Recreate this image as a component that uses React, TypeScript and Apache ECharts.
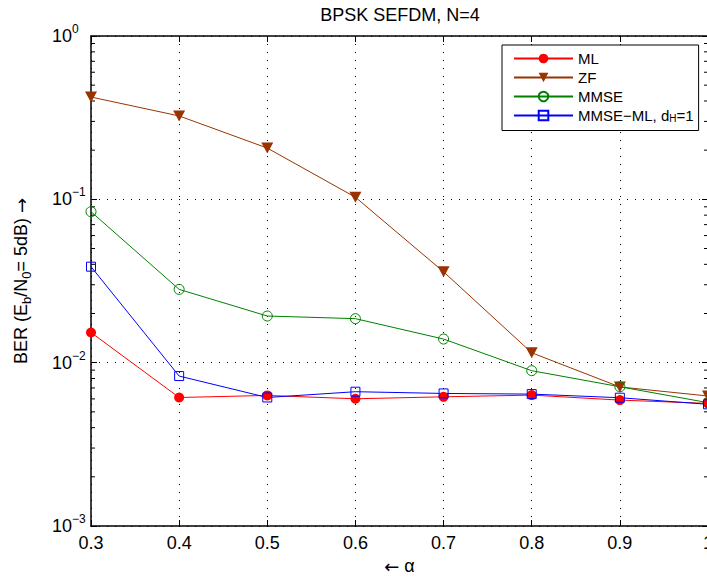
import React, { useEffect, useRef } from 'react';
import * as echarts from 'echarts';

const alpha = [0.3, 0.4, 0.5, 0.6, 0.7, 0.8, 0.9, 1.0];
const berML = [0.0153, 0.00612, 0.0063, 0.00601, 0.00618, 0.00633, 0.0059, 0.00563];
const berZF = [0.423, 0.324, 0.206, 0.103, 0.036, 0.0115, 0.0071, 0.00625];
const berMMSE = [0.084, 0.0281, 0.0193, 0.0186, 0.01395, 0.00893, 0.00712, 0.00569];
const berMMSEML = [0.0387, 0.00828, 0.00612, 0.00664, 0.00648, 0.00642, 0.0061, 0.00556];
const seriesNames = ['ML', 'ZF', 'MMSE', 'MMSE−ML, dH=1'];
const minorTicks = [
  0.002, 0.003, 0.004, 0.005, 0.006, 0.007, 0.008, 0.009,
  0.02, 0.03, 0.04, 0.05, 0.06, 0.07, 0.08, 0.09,
  0.2, 0.3, 0.4, 0.5, 0.6, 0.7, 0.8, 0.9,
];
const X_MIN = 0.3;
const X_MAX = 1.0;
const Y_MIN = 0.001;
const Y_MAX = 1;

const FONT = '"Liberation Sans", Arial, Helvetica, sans-serif';
const ARROW_FONT = '"DejaVu Sans", sans-serif';

function pairs(ys: number[]) {
  return alpha.map((a, i) => [a, ys[i]]);
}

export default function App() {
  const ref = useRef<HTMLDivElement>(null);
  useEffect(() => {
    if (!ref.current) return;
    const chart = echarts.init(ref.current, undefined, { renderer: 'svg' });
    const axisLineStyle = { color: '#000', width: 1.5 };
    const dotted = { color: '#000', width: 1, type: [1, 7] as any };
    const option: any = {
      animation: false,
      backgroundColor: '#fff',
      title: {
        text: 'BPSK SEFDM, N=4',
        left: 400,
        top: 6,
        padding: 0,
        textAlign: 'center',
        textStyle: { fontSize: 18, fontWeight: 'normal', color: '#000', fontFamily: FONT },
      },
      grid: { left: 91, right: -1, top: 36, bottom: 52, containLabel: false, outerBoundsMode: 'none' },
      legend: {
        data: seriesNames,
        orient: 'vertical',
        left: 502,
        top: 45,
        padding: [6, 5, 7, 11],
        itemGap: 4,
        itemWidth: 59,
        itemHeight: 12,
        backgroundColor: '#fff',
        borderColor: '#000',
        borderWidth: 1,
        borderRadius: 0,
        symbolRotate: 'inherit',
        formatter: (name: string) =>
          name === seriesNames[3] ? '{n|MMSE−ML, d}{s|H}{n|=1}' : `{n|${name}}`,
        textStyle: {
          color: '#000',
          fontFamily: FONT,
          fontSize: 15,
          rich: {
            n: { fontSize: 15, lineHeight: 16, fontFamily: FONT, color: '#000' },
            s: { fontSize: 10, lineHeight: 10, verticalAlign: 'bottom', fontFamily: FONT, color: '#000' },
          },
        },
      },
      xAxis: [
        {
          type: 'value',
          min: X_MIN,
          max: X_MAX,
          interval: 0.1,
          position: 'bottom',
          axisLine: { show: true, onZero: false, lineStyle: axisLineStyle },
          axisTick: { show: true, inside: true, length: 6, lineStyle: { color: '#000' } },
          axisLabel: { color: '#000', fontSize: 18, fontFamily: FONT, margin: 8 },
          splitLine: { show: true, lineStyle: dotted },
          name: '{a|←}{n| α}',
          nameLocation: 'middle',
          nameGap: 29,
          nameTextStyle: {
            color: '#000',
            fontSize: 18,
            fontFamily: FONT,
            rich: {
              a: { fontSize: 18, fontFamily: ARROW_FONT, color: '#000', lineHeight: 22 },
              n: { fontSize: 18, fontFamily: FONT, color: '#000', lineHeight: 22 },
            },
          },
        },
        {
          type: 'value',
          min: X_MIN,
          max: X_MAX,
          interval: 0.1,
          position: 'top',
          axisLine: { show: true, onZero: false, lineStyle: axisLineStyle },
          axisTick: { show: true, inside: true, length: 6, lineStyle: { color: '#000' } },
          axisLabel: { show: false },
          splitLine: { show: false },
        },
      ],
      yAxis: [
        {
          type: 'log',
          logBase: 10,
          min: Y_MIN,
          max: Y_MAX,
          position: 'left',
          axisLine: { show: true, onZero: false, lineStyle: axisLineStyle },
          axisTick: { show: true, inside: true, length: 6, lineStyle: { color: '#000' } },
          minorTick: { show: false },
          axisLabel: {
            color: '#000',
            align: 'left',
            margin: 39,
            formatter: (v: number) => {
              const e = Math.round(Math.log10(v));
              return `{b|10}{s|${e < 0 ? '−' : ''}${Math.abs(e)}}`;
            },
            rich: {
              b: { fontSize: 18, lineHeight: 26, fontFamily: FONT, color: '#000' },
              s: { fontSize: 12, lineHeight: 12, verticalAlign: 'top', fontFamily: FONT, color: '#000' },
            },
          },
          splitLine: { show: true, lineStyle: dotted },
          name: '{n|BER (E}{s|b}{n|/N}{s|0}{n|= 5dB) }{a|→}',
          nameLocation: 'middle',
          nameRotate: 90,
          nameGap: 58,
          nameTextStyle: {
            color: '#000',
            fontFamily: FONT,
            fontSize: 18,
            rich: {
              n: { fontSize: 18, lineHeight: 24, fontFamily: FONT, color: '#000' },
              s: { fontSize: 13, lineHeight: 13, verticalAlign: 'bottom', fontFamily: FONT, color: '#000' },
              a: { fontSize: 18, lineHeight: 24, fontFamily: ARROW_FONT, color: '#000' },
            },
          },
        },
        {
          type: 'log',
          logBase: 10,
          min: Y_MIN,
          max: Y_MAX,
          position: 'right',
          axisLine: { show: true, onZero: false, lineStyle: axisLineStyle },
          axisTick: { show: true, inside: true, length: 6, lineStyle: { color: '#000' } },
          axisLabel: { show: false },
          splitLine: { show: false },
        },
      ],
      series: [
        {
          type: 'custom',
          name: 'minorTicks',
          silent: true,
          clip: false,
          xAxisIndex: 0,
          yAxisIndex: 0,
          data: minorTicks.map((v) => [X_MIN, v]),
          renderItem: (_params: any, api: any) => {
            const v = api.value(1);
            const l = api.coord([X_MIN, v]);
            const r = api.coord([X_MAX, v]);
            return {
              type: 'group',
              children: [
                { type: 'line', shape: { x1: l[0], y1: l[1], x2: l[0] + 4, y2: l[1] }, style: { stroke: '#000', lineWidth: 1 } },
                { type: 'line', shape: { x1: r[0] - 4, y1: r[1], x2: r[0], y2: r[1] }, style: { stroke: '#000', lineWidth: 1 } },
              ],
            };
          },
        },
        {
          type: 'line',
          name: seriesNames[0],
          data: pairs(berML),
          symbol: 'circle',
          symbolSize: 10,
          lineStyle: { color: '#ff0000', width: 1 },
          itemStyle: { color: '#ff0000' },
        },
        {
          type: 'line',
          name: seriesNames[1],
          data: pairs(berZF),
          symbol: 'triangle',
          symbolRotate: 180,
          symbolSize: [12, 11],
          lineStyle: { color: '#993300', width: 1 },
          itemStyle: { color: '#993300' },
        },
        {
          type: 'line',
          name: seriesNames[2],
          data: pairs(berMMSE),
          symbol: 'circle',
          symbolSize: 10,
          lineStyle: { color: '#008000', width: 1 },
          itemStyle: { color: 'rgba(0,0,0,0)', borderColor: '#008000', borderWidth: 1 },
        },
        {
          type: 'line',
          name: seriesNames[3],
          data: pairs(berMMSEML),
          symbol: 'rect',
          symbolSize: 9,
          lineStyle: { color: '#0000ff', width: 1 },
          itemStyle: { color: 'rgba(0,0,0,0)', borderColor: '#0000ff', borderWidth: 1 },
        },
      ],
    };
    chart.setOption(option);
    return () => chart.dispose();
  }, []);
  return (
    <div
      ref={ref}
      style={{ position: 'fixed', left: 0, top: 0, width: 707, height: 578, background: '#fff' }}
    />
  );
}
